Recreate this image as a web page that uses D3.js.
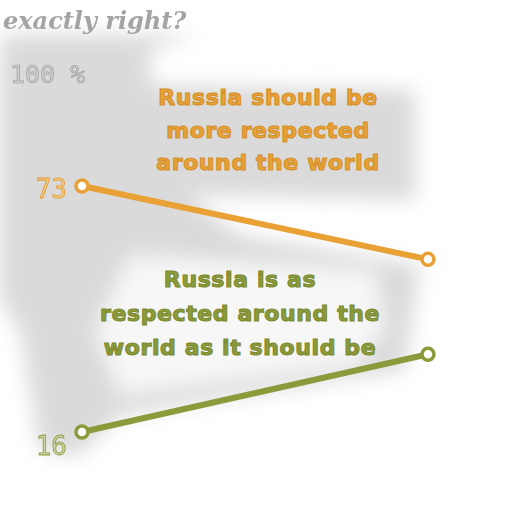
<!DOCTYPE html>
<html>
<head>
<meta charset="utf-8">
<script src="https://cdn.jsdelivr.net/npm/d3@7"></script>
<style>
  html, body { margin: 0; padding: 0; background: #fff; }
  svg { display: block; }
</style>
</head>
<body>
<div id="chart"></div>
<script>
// data
const periods = ["start", "end"];
const moreRespected = [73, 56];
const asRespected = [16, 34];
const yTicks = [100];

const width = 512, height = 512;

const svg = d3.select("#chart")
	.append("svg")
	.attr("width", width)
	.attr("height", height);

const x = d3.scalePoint().domain(periods).range([82, 428]);
const y = d3.scaleLinear().domain([0, 100]).range([501, 69.5]);

// blurry grey backdrop
const defs = svg.append("defs");
defs.append("filter").attr("id", "blur").attr("x", "-20%").attr("y", "-20%")
	.attr("width", "140%").attr("height", "140%")
	.append("feGaussianBlur").attr("stdDeviation", 10);
defs.append("filter").attr("id", "soft")
	.append("feGaussianBlur").attr("stdDeviation", 0.5);

const bg = svg.append("g").attr("filter", "url(#blur)");
bg.append("path")
	.attr("d", "M0,35 L200,35 L150,50 L150,85 L415,90 L415,200 L190,195 L240,235 L420,265 L405,370 L120,415 L80,455 L40,450 L20,330 L0,300 Z")
	.attr("fill", "#dadada");
bg.append("path")
	.attr("d", "M130,255 L375,270 L385,330 L355,365 L120,395 L95,330 Z")
	.attr("fill", "#f7f7f7");
bg.append("path")
	.attr("d", "M195,205 L410,210 L410,240 L250,232 Z")
	.attr("fill", "#ffffff");

// title fragment
svg.append("text")
	.attr("x", 3).attr("y", 29)
	.attr("font-family", "DejaVu Serif, serif")
	.attr("font-style", "italic")
	.attr("font-weight", "bold")
	.attr("font-size", 24)
	.attr("fill", "#a4a4a4")
	.attr("filter", "url(#soft)")
	.text("exactly right?");

// axis tick label
svg.selectAll("text.tick")
	.data(yTicks)
	.enter()
	.append("text")
	.attr("class", "tick")
	.attr("x", 10)
	.attr("y", d => y(d) + 13)
	.attr("font-family", "DejaVu Sans Mono, monospace")
	.attr("font-size", 25)
	.attr("fill", "#d0d0d0")
	.attr("stroke", "#9c9c9c")
	.attr("stroke-width", 0.7)
	.attr("filter", "url(#soft)")
	.text(d => d + " %");

const series = [
	{ name: "more", values: moreRespected, color: "#e9a136", edge: "#d4902a",
	  label: ["Russia should be", "more respected", "around the world"], lx: 268, ly: 105, lh: 32.5 },
	{ name: "as", values: asRespected, color: "#8c9a3b", edge: "#7a8a2e",
	  label: ["Russia is as", "respected  around the", "world  as it should be"], lx: 240, ly: 287, lh: 34 }
];

const line = d3.line()
	.x((d, i) => x(periods[i]))
	.y(d => y(d));

series.forEach(s => {
	svg.append("path")
		.datum(s.values)
		.attr("d", line)
		.attr("fill", "none")
		.attr("stroke", s.color)
		.attr("stroke-width", 6);

	svg.selectAll("circle.pt-" + s.name)
		.data(s.values)
		.enter()
		.append("circle")
		.attr("class", "pt-" + s.name)
		.attr("cx", (d, i) => x(periods[i]))
		.attr("cy", d => y(d))
		.attr("r", 6)
		.attr("fill", "#fff")
		.attr("stroke", s.color)
		.attr("stroke-width", 3.5);

	svg.selectAll("text.lab-" + s.name)
		.data(s.label)
		.enter()
		.append("text")
		.attr("class", "lab-" + s.name)
		.attr("x", s.lx)
		.attr("y", (d, i) => s.ly + i * s.lh)
		.attr("text-anchor", "middle")
		.attr("font-family", "DejaVu Sans, sans-serif")
		.attr("font-weight", "bold")
		.attr("font-size", 22)
		.attr("letter-spacing", 0.6)
		.attr("fill", s.color)
		.attr("stroke", s.edge)
		.attr("stroke-width", 1.1)
		.text(d => d);
});

// value labels at first point
svg.append("text")
	.attr("x", x(periods[0]) - 15)
	.attr("y", y(moreRespected[0]) + 12)
	.attr("text-anchor", "end")
	.attr("font-family", "DejaVu Sans Mono, monospace")
	.attr("font-size", 26)
	.attr("fill", "#f4cc8c")
	.attr("stroke", "#e39a30")
	.attr("stroke-width", 0.8)
	.attr("filter", "url(#soft)")
	.text(moreRespected[0]);

svg.append("text")
	.attr("x", x(periods[0]) - 15)
	.attr("y", y(asRespected[0]) + 23)
	.attr("text-anchor", "end")
	.attr("font-family", "DejaVu Sans Mono, monospace")
	.attr("font-size", 26)
	.attr("fill", "#ccd2a8")
	.attr("stroke", "#8c9e3b")
	.attr("stroke-width", 0.8)
	.attr("filter", "url(#soft)")
	.text(asRespected[0]);
</script>
</body>
</html>
